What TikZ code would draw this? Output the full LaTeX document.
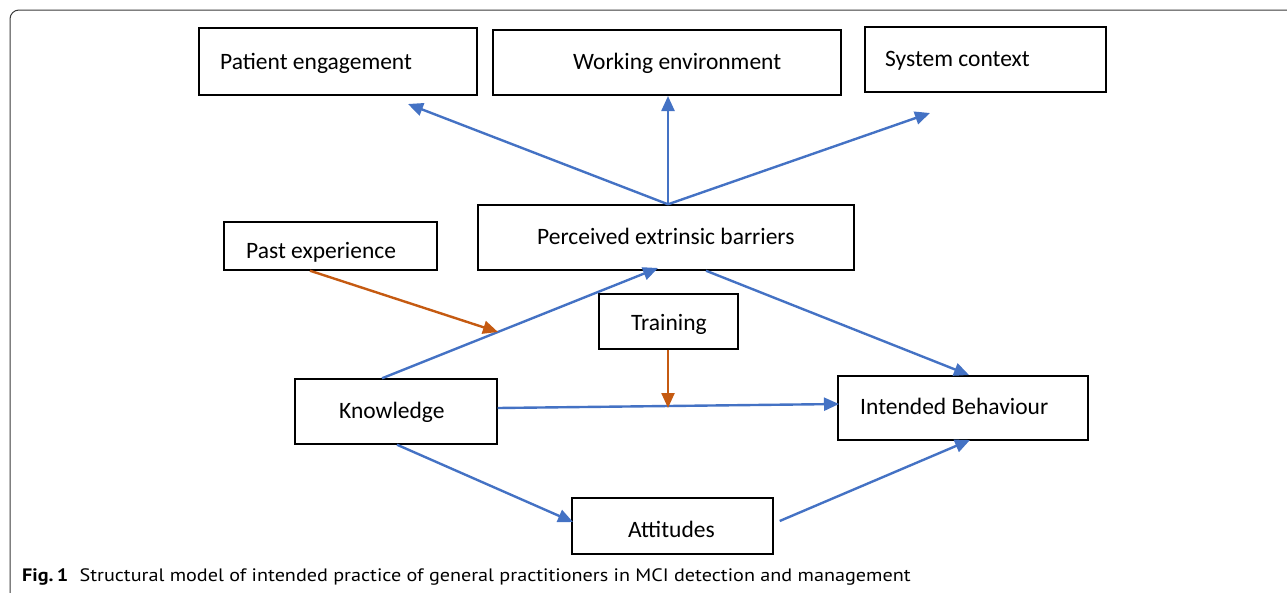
\documentclass[tikz,border=0pt]{standalone}
\usepackage{fontspec}
\setmainfont{Carlito}
\newfontfamily\capfont{PT Sans}
\usetikzlibrary{arrows.meta}
\definecolor{barrow}{HTML}{4472C4}
\definecolor{oarrow}{HTML}{C55A11}
\definecolor{frame}{HTML}{3A3A3A}
\begin{document}
\begin{tikzpicture}[x=1pt,y=-1pt,
  box/.style={draw=black,line width=1.4pt,rectangle,inner sep=0pt},
  lbl/.style={font=\fontsize{23.5}{28}\selectfont,inner sep=0pt,anchor=base west},
  blue arrow/.style={draw=barrow,line width=2.4pt,-{Triangle[length=15pt,width=13pt]}},
  orange arrow/.style={draw=oarrow,line width=2.4pt,-{Triangle[length=15pt,width=13pt]}}]
\useasboundingbox (0,0) rectangle (1287,592);
% frame
\draw[frame,line width=1pt,rounded corners=9pt] (1300,10) -- (10,10) -- (10,600);
% boxes
\node[box,minimum width=278pt,minimum height=67pt] (pe) at (338,61.5) {};
\node[lbl] (pet) at (220,69) {Patient engagement};
\node[box,minimum width=348pt,minimum height=65pt] (we) at (667,62.5) {};
\node[lbl] (wet) at (573,69) {Working environment};
\node[box,minimum width=241pt,minimum height=65pt] (sc) at (985.5,59.5) {};
\node[lbl] (sct) at (885,66) {System context};
\node[box,minimum width=376pt,minimum height=65pt] (peb) at (666,237.5) {};
\node[lbl] (pebt) at (537,244) {Perceived extrinsic barriers};
\node[box,minimum width=213pt,minimum height=48pt] (pex) at (330.5,246) {};
\node[lbl] (pext) at (246,258) {Past experience};
\node[box,minimum width=139pt,minimum height=55pt] (tr) at (668.5,321.5) {};
\node[lbl] (trt) at (631,330) {Training};
\node[box,minimum width=202pt,minimum height=65pt] (kn) at (396,411.5) {};
\node[lbl] (knt) at (339,418) {Knowledge};
\node[box,minimum width=250pt,minimum height=64pt] (ib) at (963,408) {};
\node[lbl] (ibt) at (860,414) {Intended Behaviour};
\node[box,minimum width=201pt,minimum height=56pt] (at) at (672.5,526) {};
\node[lbl] (att) at (628,537) {Attitudes};
% arrow end coordinates
\coordinate (e1) at (408,104);
\coordinate (e2) at (668,96);
\coordinate (e3) at (930,113);
\coordinate (e4) at (658,268);
\coordinate (e5) at (969,375);
\coordinate (e6) at (839,404);
\coordinate (e7) at (573,522);
\coordinate (e8) at (970,440);
\coordinate (e9) at (498,332);
\coordinate (e10) at (668,408);
% blue arrows
\draw[blue arrow] ([xshift=2pt]peb.north) -- (e1);
\draw[blue arrow] ([xshift=2pt]peb.north) -- (e2);
\draw[blue arrow] ([xshift=2pt]peb.north) -- (e3);
\draw[blue arrow] ([xshift=-14pt]kn.north) -- (e4);
\draw[blue arrow] ([xshift=40pt]peb.south) -- (e5);
\draw[blue arrow] ([yshift=3.5pt]kn.east) -- (e6);
\draw[blue arrow] ([xshift=1pt]kn.south) -- (e7);
\draw[blue arrow] ([xshift=6pt,yshift=5pt]at.east) -- (e8);
% orange arrows
\draw[orange arrow] ([xshift=-20.5pt]pex.south) -- (e9);
\draw[orange arrow] ([xshift=-0.5pt]tr.south) -- (e10);
% caption
\node[inner sep=0pt,anchor=base west,font=\capfont\fontsize{18}{22}\selectfont] (cap) at (22,581) {\scalebox{1.12}[1]{\textbf{Fig.\,1}\hspace{10pt}Structural model of intended practice of general practitioners in MCI detection and management}};
\end{tikzpicture}
\end{document}
